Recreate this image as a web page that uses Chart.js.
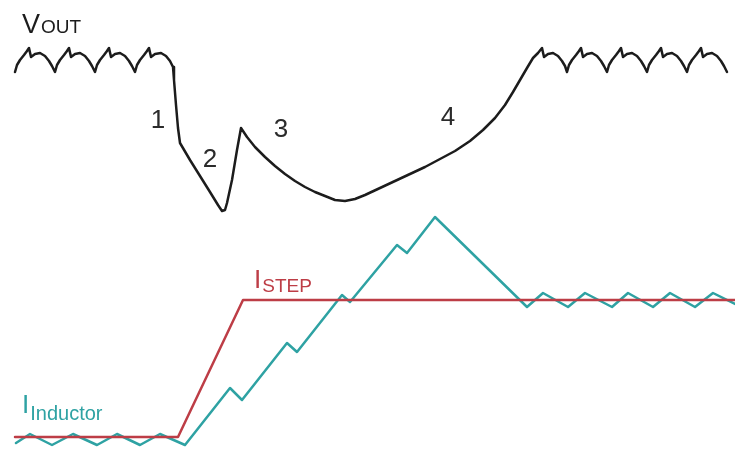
<!DOCTYPE html>
<html>
<head>
<meta charset="utf-8">
<script src="https://cdn.jsdelivr.net/npm/chart.js@4/dist/chart.umd.min.js"></script>
<style>
  html, body { margin: 0; padding: 0; background: #fff; }
  #wrap { width: 735px; height: 449px; }
</style>
</head>
<body>
<div id="wrap"><canvas id="waveChart" width="735" height="449"></canvas></div>
<script>
// --- DATA (time in us, level in arbitrary units) ---
const voutTime = [
  1.5, 1.7, 2.0, 2.4, 2.7, 2.9, 3.1, 3.5, 4.0, 4.5, 4.9, 5.2, 5.5,
  5.7, 6.0, 6.4, 6.7, 6.9, 7.1, 7.5, 8.0, 8.5, 8.9, 9.2, 9.5,
  9.7, 10.0, 10.4, 10.7, 10.9, 11.1, 11.5, 12.0, 12.5, 12.9, 13.2, 13.5,
  13.7, 14.0, 14.4, 14.7, 14.9, 15.1, 15.5, 16.1, 16.6, 17.0, 17.3,
  17.4, 17.6, 17.8, 18.0,
  19.0, 20.0, 21.0, 21.8, 22.2, 22.5, 22.7, 23.2, 23.7, 24.1,
  24.7, 25.5, 26.5, 27.5, 28.5, 29.5, 30.5, 31.5, 32.5, 33.5, 34.5, 35.5, 36.5,
  38.0, 39.5, 41.0, 42.5, 44.0, 45.5, 47.0, 48.3, 49.5, 50.5, 51.3, 52.0, 52.7, 53.3, 53.8, 54.2,
  54.4, 54.8, 55.3, 55.8, 56.2, 56.5, 56.7,
  56.9, 57.2, 57.6, 57.9, 58.1, 58.3, 58.7, 59.2, 59.7, 60.1, 60.4, 60.7,
  60.9, 61.2, 61.6, 61.9, 62.1, 62.3, 62.7, 63.2, 63.7, 64.1, 64.4, 64.7,
  64.9, 65.2, 65.6, 65.9, 66.1, 66.3, 66.7, 67.2, 67.7, 68.1, 68.4, 68.7,
  68.9, 69.2, 69.6, 69.9, 70.1, 70.3, 70.7, 71.2, 71.7, 72.1, 72.4, 72.7
];
const voutLevel = [
  37.8, 38.5, 39.0, 39.5, 39.9, 40.2, 39.3, 39.6, 39.7, 39.4, 38.9, 38.4, 37.8,
  38.5, 39.0, 39.5, 39.9, 40.2, 39.3, 39.6, 39.7, 39.4, 38.9, 38.4, 37.8,
  38.5, 39.0, 39.5, 39.9, 40.2, 39.3, 39.6, 39.7, 39.4, 38.9, 38.4, 37.8,
  38.5, 39.0, 39.5, 39.9, 40.2, 39.3, 39.6, 39.7, 39.4, 38.9, 38.3,
  37.0, 34.5, 32.2, 30.7,
  29.0, 27.4, 25.8, 24.5, 23.9, 24.0, 24.7, 27.0, 30.0, 32.2,
  31.3, 30.3, 29.3, 28.4, 27.6, 26.9, 26.3, 25.8, 25.4, 25.0, 24.9, 25.1, 25.5,
  26.2, 26.9, 27.6, 28.3, 29.1, 29.9, 30.9, 32.0, 33.2, 34.5, 35.8, 37.0, 38.2, 39.2, 39.7, 40.2,
  39.3, 39.6, 39.7, 39.4, 38.9, 38.4, 37.8,
  38.5, 39.0, 39.5, 39.9, 40.2, 39.3, 39.6, 39.7, 39.4, 38.9, 38.4, 37.8,
  38.5, 39.0, 39.5, 39.9, 40.2, 39.3, 39.6, 39.7, 39.4, 38.9, 38.4, 37.8,
  38.5, 39.0, 39.5, 39.9, 40.2, 39.3, 39.6, 39.7, 39.4, 38.9, 38.4, 37.8,
  38.5, 39.0, 39.5, 39.9, 40.2, 39.3, 39.6, 39.7, 39.4, 38.9, 38.4, 37.8
];

const stepTime = [1.5, 17.8, 24.3, 73.5];
const stepLevel = [1.3, 1.3, 15.0, 15.0];

const inductorTime = [
  1.6, 3.0, 5.2, 7.3, 9.7, 11.7, 14.0, 16.0, 18.5,
  23.0, 24.2, 28.7, 29.7, 34.2, 35.0, 39.7, 40.7, 43.5,
  52.7, 54.3, 56.8, 58.5, 61.2, 62.8, 65.3, 67.0, 69.5, 71.3, 73.5
];
const inductorLevel = [
  0.7, 1.6, 0.5, 1.6, 0.5, 1.6, 0.5, 1.6, 0.5,
  6.2, 5.0, 10.7, 9.8, 15.5, 14.8, 20.5, 19.7, 23.3,
  14.3, 15.7, 14.3, 15.7, 14.3, 15.7, 14.3, 15.7, 14.3, 15.7, 14.6
];

const phaseLabels = ['1', '2', '3', '4'];

// --- LAYOUT / STYLE ---
const RED = '#bd3d46';
const TEAL = '#2ea2a3';
const INK = '#1c1c1c';
const FONT = "'Liberation Sans', Arial, sans-serif";

const phasePos = [[15.8, 32.9], [21.0, 29.0], [28.1, 32.0], [44.8, 33.2]];

function pts(xs, ys) {
  return xs.map((x, i) => ({ x: x, y: ys[i] }));
}

// text annotations drawn in data coordinates
const textPlugin = {
  id: 'waveText',
  afterDatasetsDraw(chart) {
    const ctx = chart.ctx;
    const sx = chart.scales.x, sy = chart.scales.y;
    ctx.save();

    // phase numbers
    ctx.fillStyle = '#2b2b2b';
    ctx.font = '26px ' + FONT;
    ctx.textAlign = 'center';
    ctx.textBaseline = 'middle';
    phaseLabels.forEach((t, i) => {
      ctx.fillText(t, sx.getPixelForValue(phasePos[i][0]), sy.getPixelForValue(phasePos[i][1]));
    });

    // label with subscript
    function subLabel(main, sub, t, v, color, mainSize, subSize, drop) {
      const x = sx.getPixelForValue(t), y = sy.getPixelForValue(v);
      ctx.fillStyle = color;
      ctx.textAlign = 'left';
      ctx.textBaseline = 'alphabetic';
      ctx.font = mainSize + 'px ' + FONT;
      ctx.fillText(main, x, y);
      const w = ctx.measureText(main).width;
      ctx.font = subSize + 'px ' + FONT;
      ctx.fillText(sub, x + w + 1, y + drop);
    }
    subLabel('V', 'OUT', 2.2, 41.7, INK, 27, 19, 0);
    subLabel('I', 'STEP', 25.4, 16.2, RED, 26, 19, 4);
    subLabel('I', 'Inductor', 2.2, 3.7, TEAL, 26, 20, 7);

    ctx.restore();
  }
};

const ctxEl = document.getElementById('waveChart');
new Chart(ctxEl, {
  type: 'scatter',
  data: {
    datasets: [
      { label: 'I_STEP', data: pts(stepTime, stepLevel), borderColor: RED, borderWidth: 2.5 },
      { label: 'V_OUT', data: pts(voutTime, voutLevel), borderColor: INK, borderWidth: 2.5 },
      { label: 'I_Inductor', data: pts(inductorTime, inductorLevel), borderColor: TEAL, borderWidth: 2.5 }
    ].map(d => Object.assign(d, {
      showLine: true, pointRadius: 0, tension: 0, fill: false,
      borderJoinStyle: 'round', borderCapStyle: 'round', clip: false
    }))
  },
  options: {
    responsive: false,
    animation: false,
    layout: { padding: 0 },
    plugins: { legend: { display: false }, tooltip: { enabled: false } },
    scales: {
      x: { type: 'linear', min: 0, max: 73.5, display: false },
      y: { type: 'linear', min: 0.1, max: 45, display: false }
    }
  },
  plugins: [textPlugin]
});
</script>
</body>
</html>
